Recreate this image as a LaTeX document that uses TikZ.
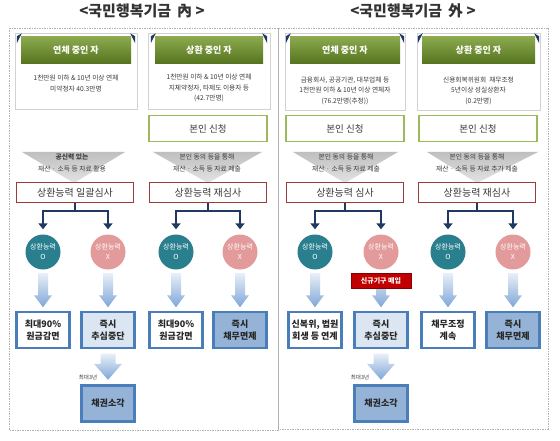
\documentclass[tikz,border=0pt]{standalone}
\usepackage{fontspec}
\setmainfont{Noto Sans CJK KR}
\usetikzlibrary{calc,arrows.meta}
\definecolor{hdrtop}{HTML}{8CAA4E}
\definecolor{hdrbot}{HTML}{56741F}
\definecolor{navyc}{HTML}{1F3864}
\definecolor{circok}{HTML}{2A7F8F}
\definecolor{circno}{HTML}{E39A9A}
\definecolor{redboxc}{HTML}{C00000}
\definecolor{revborder}{HTML}{9B3B3B}
\definecolor{greenborder}{HTML}{9BBB59}
\definecolor{boxborder}{HTML}{4A7EBB}
\definecolor{lightfill}{HTML}{DCE6F2}
\definecolor{midfill}{HTML}{95B3D7}
\definecolor{arrtop}{HTML}{E8EFF8}
\definecolor{arrbot}{HTML}{7FA6D8}
\definecolor{txtc}{HTML}{3A3A3A}
\tikzset{
 panel/.style={draw=gray!60, dash pattern=on 1.5pt off 1pt, line width=0.6pt},
 titletxt/.style={font=\bfseries\fontsize{15}{18}\selectfont, text=black!80, inner sep=0},
 card/.style={draw=gray!35, fill=white, line width=0.8pt, minimum height=76pt, inner sep=0},
 hdr/.style={top color=hdrtop, bottom color=hdrbot, draw=none, minimum height=27pt, text=white, font=\bfseries\fontsize{9}{11}\selectfont, inner sep=0},
 bodytxt/.style={font=\fontsize{6.7}{10.5}\selectfont, text=txtc, align=center, inner sep=0},
 apply/.style={draw=greenborder, line width=1.5pt, fill=white, minimum width=118pt, minimum height=26pt, font=\fontsize{9.5}{11}\selectfont, text=txtc, inner sep=0},
 funnel/.style={top color=gray!50, bottom color=gray!22, draw=none},
 funneltxt/.style={font=\fontsize{6.8}{12}\selectfont, text=txtc, align=center, inner sep=0},
 review/.style={draw=revborder, line width=1.2pt, fill=white, minimum width=117pt, minimum height=20pt, font=\fontsize{10}{11}\selectfont, text=txtc, inner sep=0},
 branch/.style={draw=navyc, line width=1.6pt, -{Triangle[length=6pt,width=9pt]}, shorten >=5pt},
 okc/.style={circle, fill=circok, minimum size=35pt, inner sep=0, text=white, font=\fontsize{7}{10}\selectfont, align=center},
 noc/.style={okc, fill=circno},
 res/.style={draw=boxborder, line width=2.4pt, minimum width=53pt, minimum height=36pt, font=\bfseries\fontsize{9}{12.5}\selectfont, text=black!85, align=center, inner sep=0},
 resw/.style={res, fill=white},
 resl/.style={res, fill=lightfill},
 resm/.style={res, fill=midfill},
 newbuy/.style={fill=redboxc, draw=redboxc!70!black, line width=0.5pt, minimum width=60pt, minimum height=15pt, text=white, font=\bfseries\fontsize{7}{8}\selectfont, inner sep=0},
 smalllbl/.style={font=\fontsize{5.5}{6}\selectfont, text=txtc, inner sep=0}
}
% fat shaded arrow between two nodes: from, to, half shaft, half head, head length, gap
\newcommand\fatarrow[6]{%
 \shade[top color=arrtop, bottom color=arrbot]
  ($(#1.south)+(-#3,#6)$) -- ($(#1.south)+(#3,#6)$) --
  ($(#2.north)+(#3,-#6-#5)$) -- ($(#2.north)+(#4,-#6-#5)$) --
  ($(#2.north)+(0,-#6)$) --
  ($(#2.north)+(-#4,-#6-#5)$) -- ($(#2.north)+(-#3,-#6-#5)$) -- cycle;}
\newcommand\ears[1]{%
 \fill[navyc] ($(#1.north west)+(-4,7)$) -- ($(#1.north west)+(-4,0)$) -- ($(#1.north west)+(1,-3)$) -- cycle;
 \fill[navyc] ($(#1.north east)+(4,7)$) -- ($(#1.north east)+(4,0)$) -- ($(#1.north east)+(-1,-3)$) -- cycle;}
\begin{document}
\begin{tikzpicture}[x=1pt,y=-1pt]
\useasboundingbox (0,0) rectangle (560,441);
\fill[white] (0,0) rectangle (560,441);
% panels
\draw[panel] (9,28) rectangle (278,430);
\draw[panel] (278,28) rectangle (548,429);
% titles
\node[titletxt] (tL) at (142,11) {<국민행복기금 \,內 >};
\node[titletxt] (tR) at (413,11) {<국민행복기금 \,外 >};
% cards
\node[card, minimum width=122pt] (cL1) at (76,71) {};
\node[hdr, minimum width=110pt] (hL1) at (76,50) {연체 중인 자};
\node[bodytxt] (bL1) at (76,83.5) {1천만원 이하 \& 10년 이상 연체\\미약정자 40.3만명};
\node[card, minimum width=122pt] (cL2) at (209,71) {};
\node[hdr, minimum width=108pt] (hL2) at (209,50) {상환 중인 자};
\node[bodytxt] (bL2) at (209,88) {1천만원 이하 \& 10년 이상 연체\\지체약정자, 타제도 이용자 등\\(42.7만명)};
\node[card, minimum width=120pt, minimum height=77pt] (cR1) at (345,71.5) {};
\node[hdr, minimum width=110pt] (hR1) at (345,50) {연체 중인 자};
\node[bodytxt] (bR1) at (345,90.5) {금융회사, 공공기관, 대부업체 등\\1천만원 이하 \& 10년 이상 연체자\\(76.2만명(추정))};
\node[card, minimum width=123pt, minimum height=77pt] (cR2) at (478.5,71.5) {};
\node[hdr, minimum width=113pt] (hR2) at (478.5,50) {상환 중인 자};
\node[bodytxt] (bR2) at (478.5,90.5) {신용회복위원회 \ 채무조정\\5년이상 성실상환자\\(0.2만명)};
\ears{hL1}\ears{hL2}\ears{hR1}\ears{hR2}
% apply boxes
\node[apply] (aL2) at (208,128.5) {본인 신청};
\node[apply] (aR1) at (345,128.5) {본인 신청};
\node[apply] (aR2) at (478,128.5) {본인 신청};
% funnels
\shade[funnel] (22,152) -- (125,152) -- (74,183) -- cycle;
\shade[funnel] (153,152) -- (262,152) -- (208,183) -- cycle;
\shade[funnel] (293,152) -- (398,152) -- (345,183) -- cycle;
\shade[funnel] (427,152) -- (538,152) -- (477,183) -- cycle;
\node[funneltxt] (fL1) at (72,162.5) {\bfseries 공신력 있는\\재산 · 소득 등 자료 활용};
\node[funneltxt] (fL2) at (207,162.5) {본인 동의 등을 통해\\재산 · 소득 등 자료 제출};
\node[funneltxt] (fR1) at (346,162.5) {본인 동의 등을 통해\\재산 · 소득 등 자료 제출};
\node[funneltxt] (fR2) at (477,162.5) {본인 동의 등을 통해\\재산 · 소득 등 자료 추가 제출};
% review boxes
\node[review] (rL1) at (75,192.5) {상환능력 일괄심사};
\node[review] (rL2) at (208,192.5) {상환능력 재심사};
\node[review] (rR1) at (345,192.5) {상환능력 심사};
\node[review] (rR2) at (477,192.5) {상환능력 재심사};
% circles
\node[okc] (oL1) at (43,252) {상환능력\\O};
\node[noc] (xL1) at (108,252) {상환능력\\X};
\node[okc] (oL2) at (176,252) {상환능력\\O};
\node[noc] (xL2) at (240,252) {상환능력\\X};
\node[okc] (oR1) at (315,252) {상환능력\\O};
\node[noc] (xR1) at (381,252) {상환능력\\X};
\node[okc] (oR2) at (448,252) {상환능력\\O};
\node[noc] (xR2) at (513,252) {상환능력\\X};
% branches
\foreach \r/\a/\b in {rL1/oL1/xL1, rL2/oL2/xL2, rR1/oR1/xR1, rR2/oR2/xR2}{
  \draw[branch] (\r.south) -- ++(0,8) -| (\a.north);
  \draw[branch] (\r.south) -- ++(0,8) -| (\b.north);
}
% result boxes
\node[resw] (sL1) at (43,330) {최대90\%\\원금감면};
\node[resl] (sL2) at (108,330) {즉시\\추심중단};
\node[resw] (sL3) at (176,330) {최대90\%\\원금감면};
\node[resm] (sL4) at (240,330) {즉시\\채무면제};
\node[resw] (sR1) at (315,330) {신복위, 법원\\회생 등 연계};
\node[resl] (sR2) at (381,330) {즉시\\추심중단};
\node[resw] (sR3) at (448,330) {채무조정\\계속};
\node[resm] (sR4) at (513,330) {즉시\\채무면제};
\node[resm] (kL) at (108,403.5) {채권소각};
\node[resm] (kR) at (381,403.5) {채권소각};
% fat arrows
\fatarrow{oL1}{sL1}{5}{9}{12}{3.5}
\fatarrow{xL1}{sL2}{5}{9}{12}{3.5}
\fatarrow{oL2}{sL3}{5}{9}{12}{3.5}
\fatarrow{xL2}{sL4}{5}{9}{12}{3.5}
\fatarrow{oR1}{sR1}{5}{9}{12}{3.5}
\fatarrow{xR1}{sR2}{5}{9}{12}{3.5}
\fatarrow{oR2}{sR3}{5}{9}{12}{3.5}
\fatarrow{xR2}{sR4}{5}{9}{12}{3.5}
\fatarrow{sL2}{kL}{7.5}{14}{16}{4.5}
\fatarrow{sR2}{kR}{7.5}{14}{16}{4.5}
\node[newbuy] (nR) at (381,280.5) {신규기구 매입};
\node[smalllbl] (yL) at (88,377) {최대3년};
\node[smalllbl] (yR) at (360,377) {최대3년};
\end{tikzpicture}
\end{document}
